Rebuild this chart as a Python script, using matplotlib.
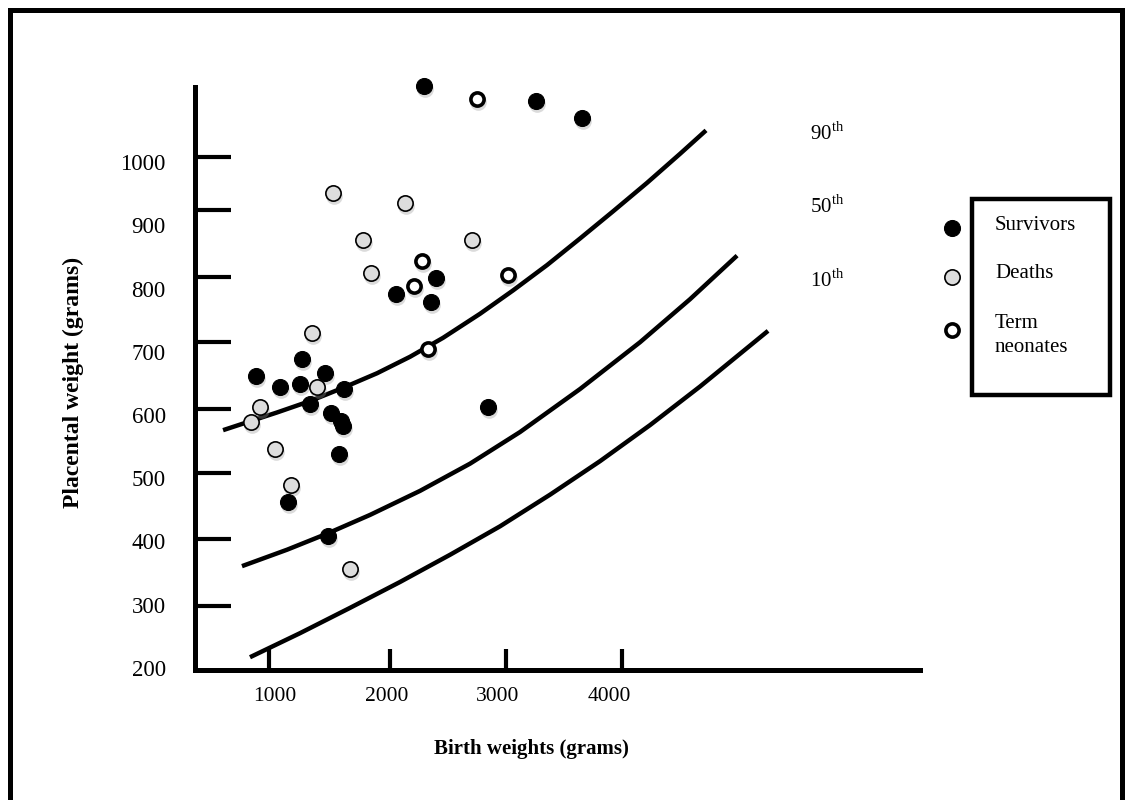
import matplotlib
matplotlib.use("Agg")
import matplotlib.pyplot as plt
from matplotlib import transforms
from matplotlib.lines import Line2D
from matplotlib.patches import Rectangle

plt.rcParams['font.family'] = ['Liberation Serif', 'DejaVu Serif']
plt.rcParams['mathtext.fontset'] = 'custom'
plt.rcParams['mathtext.rm'] = 'Liberation Serif'

# scatter data (birth weight g, placental weight g)
surv_x = [2338, 3341, 3755, 2449, 2087, 2404, 1242, 829, 1452, 1045, 1224, 1620,
          1311, 1500, 1595, 1612, 2916, 1572, 1117, 1476]
surv_y = [1120, 1097, 1069, 817, 792, 778, 689, 662, 666, 644, 649, 641,
          618, 603, 590, 582, 613, 539, 463, 408]
death_x = [1523, 2170, 1787, 2769, 1865, 1332, 1380, 865, 781, 997, 1141, 1673]
death_y = [951, 935, 876, 876, 824, 730, 644, 612, 589, 547, 489, 356]
term_x = [2817, 2323, 2251, 3093, 2374]
term_y = [1099, 843, 804, 821, 704]

# percentile curves
p90_x = [533, 775, 1018, 1314, 1611, 1916, 2212, 2509, 2841, 3138, 3443, 3739,
         4036, 4341, 4638, 4871]
p90_y = [576, 590, 604, 622, 643, 666, 692, 722, 760, 797, 837, 879,
         922, 967, 1013, 1050]
p50_x = [703, 1108, 1476, 1853, 2302, 2751, 3200, 3739, 4278, 4727, 5150]
p50_y = [361, 387, 413, 442, 480, 523, 573, 641, 715, 783, 852]
p10_x = [775, 1224, 1673, 2123, 2572, 3021, 3470, 3919, 4368, 4817, 5428]
p10_y = [217, 255, 295, 336, 379, 424, 474, 527, 584, 645, 733]

xtick_vals = [1000, 2000, 3000, 4000]
ytick_vals = [200, 300, 400, 500, 600, 700, 800, 900, 1000]
# hand drawn tick marks (not aligned with labels)
xmark_vals = [946, 2033, 3075, 4117]
ymark_vals = [298, 404, 508, 609, 715, 818, 924, 1008]

W, H = 1126, 800
fig = plt.figure(figsize=(W / 100, H / 100), dpi=100)


def fx(px):
    return px / W


def fy(py):
    return 1 - py / H


ax = fig.add_axes([fx(195), fy(670), fx(920) - fx(195), fy(87) - fy(670)])
ax.set_xlim(281, 6793)
ax.set_ylim(196.8, 1118.6)

for s in ['top', 'right']:
    ax.spines[s].set_visible(False)
for s in ['left', 'bottom']:
    ax.spines[s].set_linewidth(3.6)
    ax.spines[s].set_capstyle('projecting')

ax.set_xticks(xtick_vals)
ax.set_xticklabels([str(v) for v in xtick_vals])
ax.set_yticks(ytick_vals)
ax.set_yticklabels([str(v) for v in ytick_vals])
ax.tick_params(axis='both', which='major', length=0)
ax.tick_params(axis='x', which='major', pad=12, labelsize=15.5)
ax.tick_params(axis='y', which='major', pad=21, labelsize=16.5)
ax.set_xticks(xmark_vals, minor=True)
ax.set_yticks(ymark_vals, minor=True)
ax.tick_params(axis='x', which='minor', direction='in', length=15, width=3)
ax.tick_params(axis='y', which='minor', direction='in', length=26, width=3)

# curves
for cx, cy in [(p90_x, p90_y), (p50_x, p50_y), (p10_x, p10_y)]:
    ax.plot(cx, cy, color='black', lw=3.2, solid_capstyle='butt',
            solid_joinstyle='round', zorder=2)

# soft shadows under markers
shadow = transforms.offset_copy(ax.transData, fig=fig, x=1, y=-3, units='dots')
for xs, ys in [(surv_x, surv_y), (death_x, death_y), (term_x, term_y)]:
    ax.plot(xs, ys, 'o', ms=12, color='#999999', alpha=0.35, mew=0,
            transform=shadow, clip_on=False, zorder=2.5)

ax.plot(surv_x, surv_y, 'o', ms=11.5, mfc='black', mec='black', mew=0.8,
        clip_on=False, zorder=3)
ax.plot(death_x, death_y, 'o', ms=11, mfc='#dddddd', mec='black', mew=1.2,
        clip_on=False, zorder=3)
ax.plot(term_x, term_y, 'o', ms=9.5, mfc='white', mec='black', mew=2.6,
        clip_on=False, zorder=3)

fig.text(fx(531), fy(749), 'Birth weights (grams)', ha='center', va='center',
         fontsize=15, fontweight='bold')
fig.text(fx(73), fy(382), 'Placental weight (grams)', ha='center', va='center',
         rotation=90, fontsize=17, fontweight='bold')

# percentile labels
for lbl, py in [('90', 134), ('50', 207), ('10', 281)]:
    fig.text(fx(810), fy(py), lbl + r'$^{\mathrm{th}}$', ha='left', va='center',
             fontsize=15)

# legend (markers sit outside the box)
fig.add_artist(Rectangle((fx(972), fy(395)), fx(1110) - fx(972), fy(199) - fy(395),
                         transform=fig.transFigure, fill=False, lw=3.2,
                         edgecolor='black'))
leg_markers = [
    (228, dict(ms=11.5, mfc='black', mec='black', mew=0.8)),
    (277, dict(ms=11, mfc='#dddddd', mec='black', mew=1.2)),
    (330, dict(ms=9.5, mfc='white', mec='black', mew=2.6)),
]
for py, style in leg_markers:
    fig.add_artist(Line2D([fx(952)], [fy(py)], marker='o', linestyle='none',
                          transform=fig.transFigure, **style))
for py, lbl in [(226, 'Survivors'), (274, 'Deaths'), (323, 'Term'), (347, 'neonates')]:
    fig.text(fx(995), fy(py), lbl, ha='left', va='center', fontsize=15)

# outer frame
fig.add_artist(Rectangle((fx(10), fy(810)), fx(1122) - fx(10), fy(10) - fy(810),
                         transform=fig.transFigure, fill=False, lw=3.6,
                         edgecolor='black'))

fig.savefig('out.png', dpi=100, facecolor='white')
